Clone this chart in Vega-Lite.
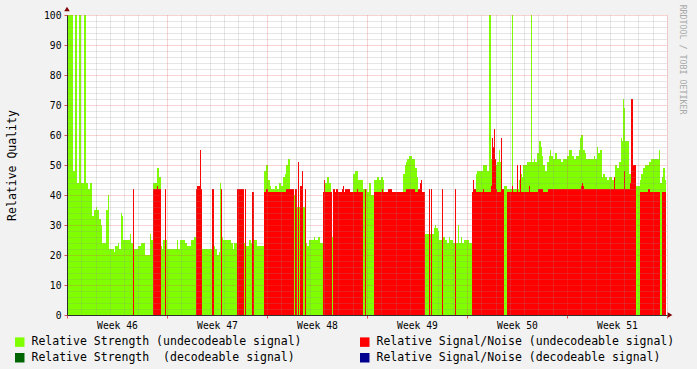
{
  "$schema": "https://vega.github.io/schema/vega-lite/v6.json",
  "width": 600,
  "height": 300,
  "autosize": {"type": "none"},
  "padding": {"left": 67, "top": 15, "right": 30, "bottom": 54},
  "background": "#F2F2F2",
  "title": {"text": "RRDTOOL / TOBI OETIKER", "orient": "right", "anchor": "start", "font": "DejaVu Sans Mono", "fontSize": 8.3, "fontWeight": "normal", "color": "#A8A8A8", "offset": 4, "dx": -2},
  "config": {
    "view": {"fill": "white", "stroke": null},
    "font": "DejaVu Sans Mono",
    "axis": {"labelFont": "DejaVu Sans Mono", "titleFont": "DejaVu Sans Mono", "labelColor": "black", "titleColor": "black"}
  },
  "datasets": {
    "strength": [
      {"start":0,"end":6,"value":100},{"start":6,"end":8,"value":48},{"start":8,"end":10,"value":100},{"start":10,"end":12,"value":44},
      {"start":12,"end":14,"value":100},{"start":14,"end":17,"value":44},{"start":17,"end":19,"value":100},{"start":19,"end":21,"value":44},
      {"start":21,"end":23,"value":42},{"start":23,"end":25,"value":44},{"start":25,"end":27,"value":33},{"start":27,"end":29,"value":35},
      {"start":29,"end":30,"value":36},{"start":30,"end":32,"value":35},{"start":32,"end":34,"value":32},{"start":34,"end":35,"value":30},
      {"start":35,"end":39,"value":24},{"start":39,"end":41,"value":35},{"start":41,"end":42,"value":40},{"start":42,"end":47,"value":22},
      {"start":47,"end":48,"value":21},{"start":48,"end":51,"value":23},{"start":51,"end":52,"value":24},{"start":52,"end":54,"value":22},
      {"start":54,"end":55,"value":34},{"start":55,"end":56,"value":33},{"start":56,"end":63,"value":25},{"start":63,"end":64,"value":27},
      {"start":64,"end":67,"value":24},{"start":67,"end":71,"value":22},{"start":71,"end":74,"value":23},{"start":74,"end":78,"value":24},
      {"start":78,"end":83,"value":20},{"start":83,"end":84,"value":27},{"start":84,"end":86,"value":25},{"start":86,"end":90,"value":44},
      {"start":90,"end":92,"value":49},{"start":92,"end":94,"value":46},{"start":94,"end":95,"value":23},{"start":95,"end":96,"value":22},
      {"start":96,"end":98,"value":25},{"start":98,"end":99,"value":22},{"start":99,"end":100,"value":25},{"start":100,"end":110,"value":22},
      {"start":110,"end":111,"value":25},{"start":111,"end":113,"value":22},{"start":113,"end":118,"value":25},{"start":118,"end":120,"value":24},
      {"start":120,"end":124,"value":23},{"start":124,"end":127,"value":25},{"start":127,"end":129,"value":26},{"start":129,"end":135,"value":42},
      {"start":135,"end":145,"value":22},{"start":145,"end":147,"value":40},{"start":147,"end":148,"value":23},{"start":148,"end":150,"value":22},
      {"start":150,"end":152,"value":20},{"start":152,"end":153,"value":21},{"start":153,"end":154,"value":44},{"start":154,"end":155,"value":40},
      {"start":155,"end":156,"value":26},{"start":156,"end":164,"value":25},{"start":164,"end":166,"value":24},{"start":166,"end":167,"value":22},
      {"start":167,"end":170,"value":24},{"start":170,"end":177,"value":40},{"start":177,"end":179,"value":24},{"start":179,"end":182,"value":23},
      {"start":182,"end":184,"value":25},{"start":184,"end":185,"value":24},{"start":185,"end":187,"value":40},{"start":187,"end":190,"value":25},
      {"start":190,"end":197,"value":23},{"start":197,"end":199,"value":48},{"start":199,"end":201,"value":50},{"start":201,"end":203,"value":45},
      {"start":203,"end":204,"value":43},{"start":204,"end":208,"value":42},{"start":208,"end":210,"value":43},{"start":210,"end":212,"value":42},
      {"start":212,"end":214,"value":44},{"start":214,"end":216,"value":43},{"start":216,"end":218,"value":46},{"start":218,"end":219,"value":47},
      {"start":219,"end":221,"value":50},{"start":221,"end":223,"value":52},{"start":223,"end":227,"value":41},{"start":227,"end":228,"value":40},
      {"start":228,"end":239,"value":36},{"start":239,"end":240,"value":24},{"start":240,"end":242,"value":23},{"start":242,"end":247,"value":25},
      {"start":247,"end":248,"value":26},{"start":248,"end":251,"value":25},{"start":251,"end":253,"value":26},{"start":253,"end":256,"value":24},
      {"start":256,"end":258,"value":41},{"start":258,"end":260,"value":44},{"start":260,"end":262,"value":46},{"start":262,"end":264,"value":44},
      {"start":264,"end":265,"value":41},{"start":265,"end":266,"value":26},{"start":266,"end":286,"value":41},{"start":286,"end":288,"value":47},
      {"start":288,"end":291,"value":48},{"start":291,"end":296,"value":45},{"start":296,"end":300,"value":42},{"start":300,"end":302,"value":41},
      {"start":302,"end":304,"value":44},{"start":304,"end":307,"value":40},{"start":307,"end":310,"value":45},{"start":310,"end":312,"value":46},
      {"start":312,"end":314,"value":45},{"start":314,"end":316,"value":46},{"start":316,"end":317,"value":45},{"start":317,"end":336,"value":41},
      {"start":336,"end":338,"value":47},{"start":338,"end":339,"value":50},{"start":339,"end":340,"value":51},{"start":340,"end":342,"value":52},
      {"start":342,"end":345,"value":53},{"start":345,"end":348,"value":52},{"start":348,"end":350,"value":49},{"start":350,"end":351,"value":46},
      {"start":351,"end":358,"value":41},{"start":358,"end":367,"value":27},{"start":367,"end":368,"value":29},{"start":368,"end":369,"value":30},
      {"start":369,"end":371,"value":29},{"start":371,"end":372,"value":28},{"start":372,"end":375,"value":25},{"start":375,"end":376,"value":40},
      {"start":376,"end":378,"value":26},{"start":378,"end":380,"value":25},{"start":380,"end":382,"value":24},{"start":382,"end":383,"value":26},
      {"start":383,"end":386,"value":25},{"start":386,"end":388,"value":24},{"start":388,"end":389,"value":40},{"start":389,"end":391,"value":24},
      {"start":391,"end":392,"value":30},{"start":392,"end":394,"value":24},{"start":394,"end":395,"value":26},{"start":395,"end":397,"value":24},
      {"start":397,"end":402,"value":25},{"start":402,"end":405,"value":24},{"start":405,"end":409,"value":41},{"start":409,"end":410,"value":47},
      {"start":410,"end":416,"value":48},{"start":416,"end":420,"value":50},{"start":420,"end":422,"value":48},{"start":422,"end":424,"value":100},
      {"start":424,"end":428,"value":52},{"start":428,"end":430,"value":50},{"start":430,"end":432,"value":51},{"start":432,"end":433,"value":55},
      {"start":433,"end":434,"value":51},{"start":434,"end":437,"value":42},{"start":437,"end":440,"value":43},{"start":440,"end":445,"value":42},
      {"start":445,"end":446,"value":100},{"start":446,"end":452,"value":42},{"start":452,"end":454,"value":45},{"start":454,"end":455,"value":47},
      {"start":455,"end":456,"value":46},{"start":456,"end":460,"value":50},{"start":460,"end":464,"value":51},{"start":464,"end":465,"value":100},
      {"start":465,"end":467,"value":51},{"start":467,"end":468,"value":52},{"start":468,"end":470,"value":51},{"start":470,"end":472,"value":54},
      {"start":472,"end":474,"value":58},{"start":474,"end":475,"value":56},{"start":475,"end":476,"value":53},{"start":476,"end":478,"value":50},
      {"start":478,"end":480,"value":48},{"start":480,"end":482,"value":51},{"start":482,"end":483,"value":53},{"start":483,"end":484,"value":55},
      {"start":484,"end":486,"value":53},{"start":486,"end":488,"value":52},{"start":488,"end":490,"value":54},{"start":490,"end":494,"value":52},
      {"start":494,"end":496,"value":51},{"start":496,"end":500,"value":52},{"start":500,"end":502,"value":53},{"start":502,"end":505,"value":55},
      {"start":505,"end":507,"value":53},{"start":507,"end":509,"value":52},{"start":509,"end":512,"value":53},{"start":512,"end":513,"value":55},
      {"start":513,"end":514,"value":59},{"start":514,"end":516,"value":60},{"start":516,"end":518,"value":55},{"start":518,"end":519,"value":54},
      {"start":519,"end":527,"value":52},{"start":527,"end":528,"value":53},{"start":528,"end":530,"value":52},{"start":530,"end":531,"value":56},
      {"start":531,"end":533,"value":54},{"start":533,"end":535,"value":55},{"start":535,"end":536,"value":46},{"start":536,"end":538,"value":47},
      {"start":538,"end":540,"value":46},{"start":540,"end":542,"value":45},{"start":542,"end":545,"value":46},{"start":545,"end":547,"value":45},
      {"start":547,"end":548,"value":46},{"start":548,"end":550,"value":50},{"start":550,"end":552,"value":49},{"start":552,"end":554,"value":51},
      {"start":554,"end":555,"value":59},{"start":555,"end":556,"value":58},{"start":556,"end":557,"value":72},{"start":557,"end":558,"value":69},
      {"start":558,"end":562,"value":58},{"start":562,"end":564,"value":47},{"start":564,"end":569,"value":44},{"start":569,"end":573,"value":43},
      {"start":573,"end":574,"value":45},{"start":574,"end":576,"value":47},{"start":576,"end":578,"value":49},{"start":578,"end":582,"value":50},
      {"start":582,"end":584,"value":51},{"start":584,"end":592,"value":52},{"start":592,"end":593,"value":55},{"start":593,"end":595,"value":44},
      {"start":595,"end":596,"value":46},{"start":596,"end":598,"value":49},{"start":598,"end":599,"value":45}
    ],
    "snr": [
      {"start":66,"end":67,"value":42},{"start":86,"end":90,"value":42},{"start":90,"end":91,"value":43},{"start":91,"end":94,"value":42},
      {"start":98,"end":99,"value":42},{"start":129,"end":130,"value":42},{"start":130,"end":133,"value":43},{"start":133,"end":134,"value":55},
      {"start":134,"end":135,"value":42},{"start":145,"end":147,"value":42},{"start":154,"end":155,"value":42},{"start":170,"end":177,"value":42},
      {"start":178,"end":179,"value":42},{"start":185,"end":187,"value":41},{"start":197,"end":199,"value":41},{"start":199,"end":201,"value":42},
      {"start":201,"end":219,"value":41},{"start":219,"end":227,"value":42},{"start":228,"end":230,"value":42},{"start":231,"end":232,"value":51},
      {"start":233,"end":235,"value":43},{"start":235,"end":236,"value":48},{"start":238,"end":239,"value":42},{"start":256,"end":257,"value":41},
      {"start":257,"end":258,"value":45},{"start":258,"end":265,"value":41},{"start":266,"end":268,"value":42},{"start":268,"end":269,"value":41},
      {"start":269,"end":271,"value":42},{"start":271,"end":275,"value":41},{"start":275,"end":276,"value":42},{"start":276,"end":277,"value":43},
      {"start":277,"end":278,"value":41},{"start":278,"end":283,"value":42},{"start":283,"end":290,"value":41},{"start":290,"end":291,"value":42},
      {"start":291,"end":296,"value":41},{"start":298,"end":299,"value":42},{"start":307,"end":315,"value":41},{"start":315,"end":316,"value":42},
      {"start":316,"end":321,"value":41},{"start":321,"end":325,"value":42},{"start":325,"end":339,"value":41},{"start":339,"end":348,"value":42},
      {"start":348,"end":351,"value":41},{"start":351,"end":353,"value":42},{"start":353,"end":354,"value":44},{"start":354,"end":355,"value":45},
      {"start":355,"end":358,"value":41},{"start":362,"end":363,"value":42},{"start":364,"end":365,"value":42},{"start":375,"end":376,"value":42},
      {"start":388,"end":389,"value":42},{"start":405,"end":406,"value":41},{"start":406,"end":407,"value":45},{"start":407,"end":409,"value":42},
      {"start":409,"end":416,"value":41},{"start":416,"end":417,"value":42},{"start":417,"end":424,"value":41},{"start":424,"end":425,"value":43},
      {"start":425,"end":426,"value":59},{"start":426,"end":427,"value":56},{"start":427,"end":428,"value":62},{"start":428,"end":429,"value":52},
      {"start":429,"end":430,"value":42},{"start":430,"end":434,"value":41},{"start":434,"end":435,"value":59},{"start":435,"end":437,"value":42},
      {"start":440,"end":445,"value":41},{"start":445,"end":446,"value":43},{"start":446,"end":450,"value":41},{"start":450,"end":451,"value":50},
      {"start":451,"end":453,"value":41},{"start":453,"end":454,"value":50},{"start":454,"end":462,"value":41},{"start":462,"end":463,"value":43},
      {"start":463,"end":471,"value":41},{"start":471,"end":476,"value":42},{"start":476,"end":481,"value":41},{"start":481,"end":514,"value":42},
      {"start":514,"end":515,"value":43},{"start":515,"end":516,"value":44},{"start":516,"end":517,"value":43},{"start":517,"end":547,"value":42},
      {"start":547,"end":548,"value":46},{"start":548,"end":557,"value":42},{"start":557,"end":558,"value":48},{"start":558,"end":563,"value":42},
      {"start":563,"end":564,"value":44},{"start":564,"end":566,"value":72},{"start":566,"end":569,"value":50},{"start":573,"end":581,"value":41},
      {"start":581,"end":583,"value":42},{"start":583,"end":593,"value":41},{"start":595,"end":599,"value":41}
    ]
  },
  "layer": [
    {
      "data": {"name": "strength"},
      "mark": {"type": "rect", "stroke": null},
      "encoding": {
        "x": {"field": "start", "type": "quantitative", "scale": {"domain": [0, 600], "nice": false, "zero": false},
          "axis": {"orient": "bottom", "values": [14.2857,28.5714,42.8571,57.1429,71.4286,85.7143,114.2857,128.5714,142.8571,157.1429,171.4286,185.7143,214.2857,228.5714,242.8571,257.1429,271.4286,285.7143,314.2857,328.5714,342.8571,357.1429,371.4286,385.7143,414.2857,428.5714,442.8571,457.1429,471.4286,485.7143,514.2857,528.5714,542.8571,557.1429,571.4286,585.7143],
            "grid": true, "gridColor": "#8F8F8F", "gridOpacity": 0.45, "gridDash": [1, 1], "labels": false, "ticks": false, "domain": false, "title": null, "zindex": 1}},
        "x2": {"field": "end"},
        "y": {"field": "value", "type": "quantitative", "scale": {"domain": [0, 100], "nice": false},
          "axis": {"orient": "left", "values": [2,4,6,8,12,14,16,18,22,24,26,28,32,34,36,38,42,44,46,48,52,54,56,58,62,64,66,68,72,74,76,78,82,84,86,88,92,94,96,98],
            "grid": true, "gridColor": "#8F8F8F", "gridOpacity": 0.45, "gridDash": [1, 1], "labels": false, "ticks": false, "domain": false, "title": null, "zindex": 1}},
        "y2": {"datum": 0},
        "color": {"datum": "Relative Strength (undecodeable signal)", "type": "nominal",
          "scale": {"domain": ["Relative Strength (undecodeable signal)", "Relative Signal/Noise (undecodeable signal)", "Relative Strength\u00a0 (decodeable signal)", "Relative Signal/Noise (decodeable signal)"],
                    "range": ["#7FFF00", "#FF0000", "#006400", "#000090"]},
          "legend": {"orient": "none", "legendX": -53, "legendY": 321, "columns": 2, "direction": "horizontal", "title": null, "padding": 0,
            "labelFont": "DejaVu Sans Mono", "labelFontSize": 11.5, "labelColor": "black", "labelLimit": 0, "labelOffset": 6,
            "symbolType": "square", "symbolSize": 90, "symbolStrokeColor": "black", "symbolStrokeWidth": 1, "symbolOpacity": 1,
            "columnPadding": 57, "rowPadding": 3}}
      }
    },
    {
      "data": {"name": "snr"},
      "mark": {"type": "rect", "stroke": null},
      "encoding": {
        "x": {"field": "start", "type": "quantitative",
          "axis": {"orient": "bottom", "values": [0, 100, 200, 300, 400, 500, 600], "grid": true, "gridColor": "#E05050", "gridOpacity": 0.5, "gridDash": [1, 1],
            "labels": false, "ticks": true, "tickColor": "#E05050", "tickSize": 3, "domain": true, "domainColor": "#303030", "domainWidth": 1, "title": null, "zindex": 1}},
        "x2": {"field": "end"},
        "y": {"field": "value", "type": "quantitative",
          "axis": {"orient": "left", "values": [0,10,20,30,40,50,60,70,80,90,100], "grid": true, "gridColor": "#E05050", "gridOpacity": 0.5, "gridDash": [1, 1],
            "ticks": true, "tickColor": "#E05050", "tickSize": 3, "domain": true, "domainColor": "#303030", "domainWidth": 1,
            "labelFont": "DejaVu Sans Mono", "labelFontSize": 9.7, "labelPadding": 3, "labelColor": "black",
            "title": "Relative Quality", "titleFont": "DejaVu Sans Mono", "titleFontSize": 11.5, "titleFontWeight": "normal", "titleColor": "black",
            "titleX": -55, "titleY": 150, "titleAngle": -90, "titleAlign": "center", "titleBaseline": "middle", "zindex": 1}},
        "y2": {"datum": 0},
        "color": {"datum": "Relative Signal/Noise (undecodeable signal)", "type": "nominal"}
      }
    },
    {
      "data": {"values": [{}]},
      "mark": {"type": "point", "shape": "triangle-up", "filled": true, "color": "#7F0000", "size": 30, "opacity": 1},
      "encoding": {
        "x": {"datum": 0, "type": "quantitative",
          "axis": {"orient": "bottom", "values": [50, 150, 250, 350, 450, 550], "labelExpr": "'Week ' + (46 + floor(datum.value / 100))",
            "grid": false, "ticks": false, "domain": false, "title": null, "labelFont": "DejaVu Sans Mono", "labelFontSize": 9.7, "labelPadding": 5, "labelColor": "black"}},
        "y": {"datum": 102, "type": "quantitative", "axis": null}
      }
    },
    {
      "data": {"values": [{}]},
      "mark": {"type": "point", "shape": "triangle-right", "filled": true, "color": "#7F0000", "size": 30, "opacity": 1},
      "encoding": {
        "x": {"datum": 603, "type": "quantitative", "axis": null},
        "y": {"datum": 0, "type": "quantitative", "axis": null}
      }
    }
  ],
  "resolve": {"axis": {"x": "independent", "y": "independent"}}
}
